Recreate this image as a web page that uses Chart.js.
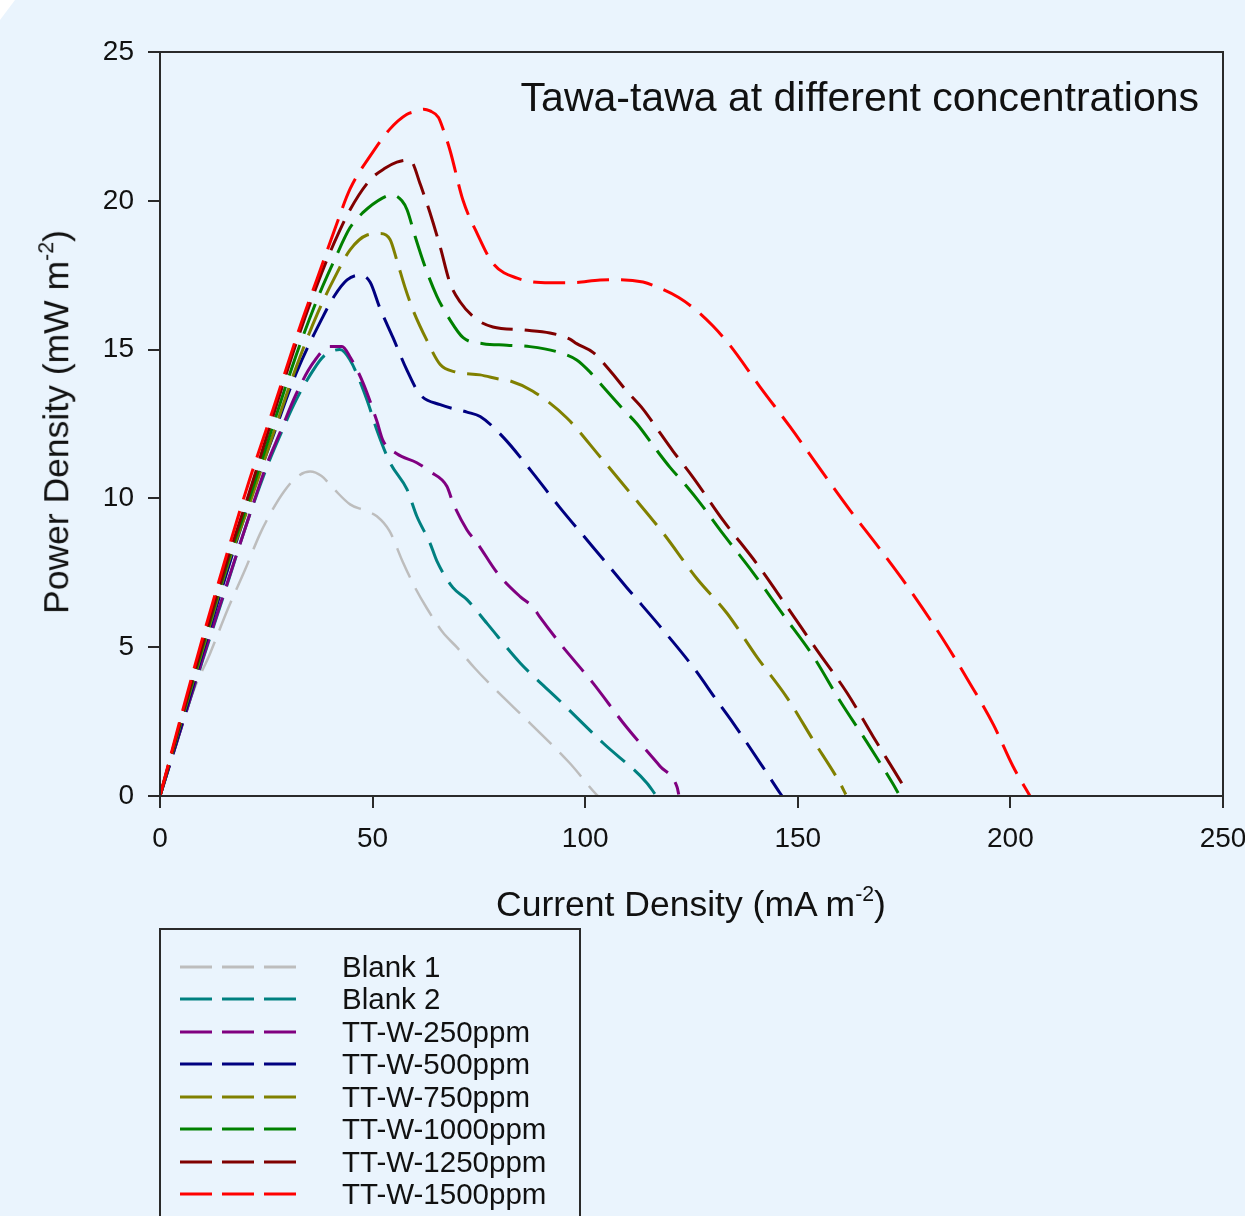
<!DOCTYPE html>
<html>
<head>
<meta charset="utf-8">
<title>Tawa-tawa at different concentrations</title>
<script src="https://cdn.jsdelivr.net/npm/chart.js@4.4.1/dist/chart.umd.min.js"></script>
<style>
    body { margin: 0; background: #ffffff; }
    #page {
        position: relative;
        width: 1245px;
        height: 1216px;
        overflow: hidden;
        background: #EAF4FD;
        clip-path: polygon(15px 0, 100% 0, 100% 100%, 0 100%, 0 20px);
        font-family: "Liberation Sans", Arial, sans-serif;
        color: #111;
    }
    #chart { position: absolute; left: 0; top: 0; }
    #title {
        position: absolute;
        right: 46px;
        top: 77px;
        font-size: 41px;
        line-height: 1;
        white-space: nowrap;
    }
    #xTitle {
        position: absolute;
        left: 441px;
        width: 500px;
        top: 887px;
        text-align: center;
        font-size: 35.5px;
        line-height: 1;
        white-space: nowrap;
    }
    #yTitle {
        position: absolute;
        left: 57px;
        top: 422px;
        transform: translate(-50%, -50%) rotate(-90deg);
        font-size: 35.5px;
        line-height: 1;
        white-space: nowrap;
    }
    sup { font-size: 60%; vertical-align: 0.7em; line-height: 0; }
    #legend {
        position: absolute;
        left: 159px;
        top: 928px;
        width: 418px;
        height: 330px;
        border: 2px solid #2a2a2a;
    }
    .legend-row {
        position: absolute;
        left: 0;
        height: 32px;
        display: flex;
        align-items: center;
        font-size: 29.5px;
        white-space: nowrap;
    }
    .legend-row svg { margin-left: 19px; margin-right: 45px; }
</style>
</head>
<body>
<div id="page">
    <canvas id="chart" width="1300" height="1216"></canvas>
    <div id="title">Tawa-tawa at different concentrations</div>
    <div id="xTitle">Current Density (mA m<sup>-2</sup>)</div>
    <div id="yTitle">Power Density (mW m<sup>-2</sup>)</div>
    <div id="legend"></div>
</div>
<script>
// Power density curves, current density (mA m-2) vs power density (mW m-2)

const xTicks = [0, 50, 100, 150, 200, 250];
const yTicks = [0, 5, 10, 15, 20, 25];

const seriesLabels = ['Blank 1', 'Blank 2', 'TT-W-250ppm', 'TT-W-500ppm',
    'TT-W-750ppm', 'TT-W-1000ppm', 'TT-W-1250ppm', 'TT-W-1500ppm'];

const blank1X = [0, 4, 7.8, 11.8, 16, 20, 23.5, 26, 29, 32, 35.3, 38, 41, 44.7, 48, 51, 54, 57, 60, 62.8, 66.5, 69.8, 74, 78.3, 87, 96.4, 102.3, 103];
const blank1Y = [0, 1.8, 3.5, 4.8, 6.3, 7.6, 8.8, 9.5, 10.2, 10.7, 10.9, 10.75, 10.3, 9.8, 9.6, 9.4, 8.9, 7.9, 7.0, 6.3, 5.5, 5.0, 4.3, 3.66, 2.45, 1.1, 0.1, 0];

const blank2X = [0, 5, 10, 15, 20.5, 25, 28.2, 32, 36, 38.3, 42.3, 44.7, 48.7, 51, 54.1, 58.1, 60.4, 63.5, 65.1, 68.9, 72.2, 76.9, 84.7, 94, 104.2, 114.5, 116.5];
const blank2Y = [0, 2.3, 4.55, 6.75, 9.2, 11.0, 12.1, 13.3, 14.3, 14.75, 15.0, 14.65, 13.3, 12.3, 11.2, 10.3, 9.4, 8.5, 7.9, 7.0, 6.6, 5.8, 4.47, 3.2, 1.78, 0.44, 0.05];

const tt250X = [0, 5, 10, 15, 20.5, 25, 28.2, 32, 36, 40, 42.8, 44.7, 47.7, 51, 52.4, 55.7, 60.4, 63.5, 67.5, 68.9, 72.2, 74.6, 79.3, 84.7, 87.7, 89.4, 94, 101.8, 109.8, 117.6, 121.6, 122];
const tt250Y = [0, 2.3, 4.6, 6.8, 9.2, 11.1, 12.2, 13.5, 14.55, 15.1, 15.1, 14.75, 13.9, 12.6, 11.96, 11.5, 11.2, 10.9, 10.4, 9.85, 8.94, 8.5, 7.5, 6.7, 6.35, 6.0, 5.14, 3.8, 2.3, 1.0, 0.3, 0.05];

const tt500X = [0, 5.4, 10, 17.2, 22, 26.6, 32, 38.3, 41, 44, 47, 49.4, 51.7, 54.8, 58.1, 61.1, 65.9, 72.2, 75.3, 80.7, 87.7, 94, 101.8, 109.8, 117.6, 125.4, 131, 134.8, 141.8, 145.8, 146.3];
const tt500Y = [0, 2.55, 4.8, 8.2, 10.3, 12.1, 14.2, 16.1, 16.8, 17.34, 17.5, 17.27, 16.4, 15.4, 14.3, 13.5, 13.15, 12.9, 12.75, 12.06, 10.85, 9.7, 8.37, 7.0, 5.7, 4.33, 3.2, 2.45, 0.97, 0.1, 0];

const tt750X = [0, 5, 10, 16, 21, 26, 32, 37, 41, 44.7, 48.7, 51.7, 54.1, 55.7, 57.6, 59.5, 62.8, 65.9, 69.4, 75.3, 80, 82.3, 87.7, 95.7, 103.5, 110.5, 118.3, 126.3, 133.3, 140.4, 147.5, 153.6, 159.9, 161.3];
const tt750Y = [0, 2.5, 4.9, 7.8, 9.8, 11.9, 14.4, 16.2, 17.4, 18.35, 18.85, 18.9, 18.7, 18.0, 17.1, 16.33, 15.3, 14.5, 14.25, 14.15, 14.0, 13.95, 13.6, 12.7, 11.4, 10.2, 8.84, 7.3, 6.15, 4.67, 3.3, 1.88, 0.44, 0.05];

const tt1000X = [0, 5, 10, 16, 21, 26, 32, 37, 41, 44.7, 47.7, 52.4, 54.6, 56.9, 58.1, 60, 62.3, 65.1, 68.2, 71.3, 76, 81.6, 87, 94, 98, 101.1, 104.2, 108.9, 112.2, 116.9, 119.9, 123.9, 127, 131.7, 139.5, 146.5, 153.6, 159.9, 166.3, 172.4, 173.6];
const tt1000Y = [0, 2.55, 5.0, 7.9, 10.0, 12.2, 14.8, 16.7, 18.0, 19.1, 19.6, 20.1, 20.2, 20.0, 19.7, 18.8, 17.8, 16.8, 16.0, 15.4, 15.2, 15.15, 15.1, 14.9, 14.65, 14.25, 13.75, 13.0, 12.5, 11.6, 11.05, 10.4, 9.85, 8.94, 7.5, 6.1, 4.7, 3.2, 1.8, 0.4, 0.1];

const tt1250X = [0, 5, 10, 16, 21, 26, 32, 37, 41, 44.7, 49.4, 53, 55.7, 58.3, 59.3, 61.1, 63.5, 65.9, 68.2, 70.6, 74.6, 78.3, 85.4, 91.7, 96.4, 98, 101.9, 105.8, 109.8, 113.6, 117.6, 120.6, 125.4, 132.4, 140.4, 147.5, 154.5, 161.6, 167.7, 174.7, 175.8];
const tt1250Y = [0, 2.6, 5.1, 8.0, 10.2, 12.5, 15.2, 17.2, 18.6, 19.7, 20.7, 21.1, 21.3, 21.37, 21.3, 20.6, 19.6, 18.45, 17.24, 16.6, 16.0, 15.76, 15.66, 15.56, 15.35, 15.2, 14.9, 14.3, 13.6, 13.0, 12.2, 11.6, 10.7, 9.27, 7.8, 6.35, 4.9, 3.46, 2.0, 0.37, 0.1];

const tt1500X = [0, 5, 10, 16.5, 21, 26.6, 33, 37, 41, 44.7, 49.4, 54, 58, 60.5, 62, 63.5, 65.5, 66.6, 68.2, 71.3, 74.6, 78.3, 84, 91.7, 97, 103.5, 108, 113.6, 117, 122, 126.3, 130, 134, 141.1, 148.2, 155.2, 162.3, 169.3, 177, 184, 190, 196, 200.6, 204.6];
const tt1500Y = [0, 2.7, 5.3, 8.5, 10.6, 13.0, 15.8, 17.4, 19.0, 20.4, 21.5, 22.4, 22.9, 23.02, 23.08, 23.02, 22.8, 22.4, 21.7, 20.0, 18.9, 17.9, 17.4, 17.25, 17.25, 17.34, 17.35, 17.27, 17.1, 16.75, 16.3, 15.8, 15.15, 13.75, 12.4, 11.0, 9.6, 8.3, 6.8, 5.3, 3.9, 2.4, 1.0, 0];

const seriesX = [blank1X, blank2X, tt250X, tt500X, tt750X, tt1000X, tt1250X, tt1500X];
const seriesY = [blank1Y, blank2Y, tt250Y, tt500Y, tt750Y, tt1000Y, tt1250Y, tt1500Y];

const lineColors = ['#BDBDBD', '#008080', '#800080', '#000080', '#808000', '#008000', '#800000', '#FF0000'];
const lineDash = [32, 12];
const axisColor = '#2a2a2a';
const fontFamily = '"Liberation Sans", Arial, sans-serif';

function toPoints(xs, ys) {
    return xs.map((x, i) => ({ x: x, y: ys[i] }));
}

function buildDatasets() {
    return seriesLabels.map((label, i) => ({
        label: label,
        data: toPoints(seriesX[i], seriesY[i]),
        borderColor: lineColors[i],
        borderWidth: i === 0 ? 2.5 : 3,
        borderDash: lineDash,
        pointRadius: 0,
        showLine: true,
        fill: false,
        cubicInterpolationMode: 'monotone',
        // last series drawn on top
        order: seriesLabels.length - 1 - i
    }));
}

function buildLegend() {
    const legend = document.getElementById('legend');
    legend.innerHTML = seriesLabels.map((label, i) => `
        <div class="legend-row" style="top:${20.5 + i * 32.5}px">
            <svg width="117" height="6">
                <line x1="0" y1="3" x2="117" y2="3" stroke="${lineColors[i]}"
                      stroke-width="3" stroke-dasharray="32 10"/>
            </svg>
            <span>${label}</span>
        </div>
    `).join('');
}

// frame round the plot area (top and right sides)
const framePlugin = {
    id: 'frame',
    afterDraw(chart) {
        const a = chart.chartArea;
        const ctx = chart.ctx;
        ctx.save();
        ctx.strokeStyle = axisColor;
        ctx.lineWidth = 2;
        ctx.strokeRect(a.left, a.top, a.right - a.left, a.bottom - a.top);
        ctx.restore();
    }
};

function axisOptions(ticks, width, height, pad) {
    return {
        type: 'linear',
        min: ticks[0],
        max: ticks[ticks.length - 1],
        afterBuildTicks: scale => {
            scale.ticks = ticks.map(v => ({ value: v }));
        },
        afterFit: scale => {
            if (width) scale.width = width;
            if (height) scale.height = height;
        },
        ticks: {
            font: { family: fontFamily, size: 28 },
            color: '#111',
            padding: pad,
            maxRotation: 0,
            autoSkip: false
        },
        grid: {
            drawOnChartArea: false,
            drawTicks: true,
            tickLength: 12,
            color: axisColor,
            lineWidth: 2
        },
        border: { color: axisColor, width: 2 }
    };
}

function drawChart() {
    const ctx = document.getElementById('chart').getContext('2d');
    new Chart(ctx, {
        type: 'scatter',
        data: { datasets: buildDatasets() },
        options: {
            responsive: false,
            animation: false,
            layout: { padding: { left: 0, top: 52, right: 77, bottom: 360 } },
            plugins: {
                legend: { display: false },
                tooltip: { enabled: false }
            },
            scales: {
                x: axisOptions(xTicks, null, 60, 14),
                y: axisOptions(yTicks, 160, null, 14)
            }
        },
        plugins: [framePlugin]
    });
}

buildLegend();
drawChart();
</script>
</body>
</html>
